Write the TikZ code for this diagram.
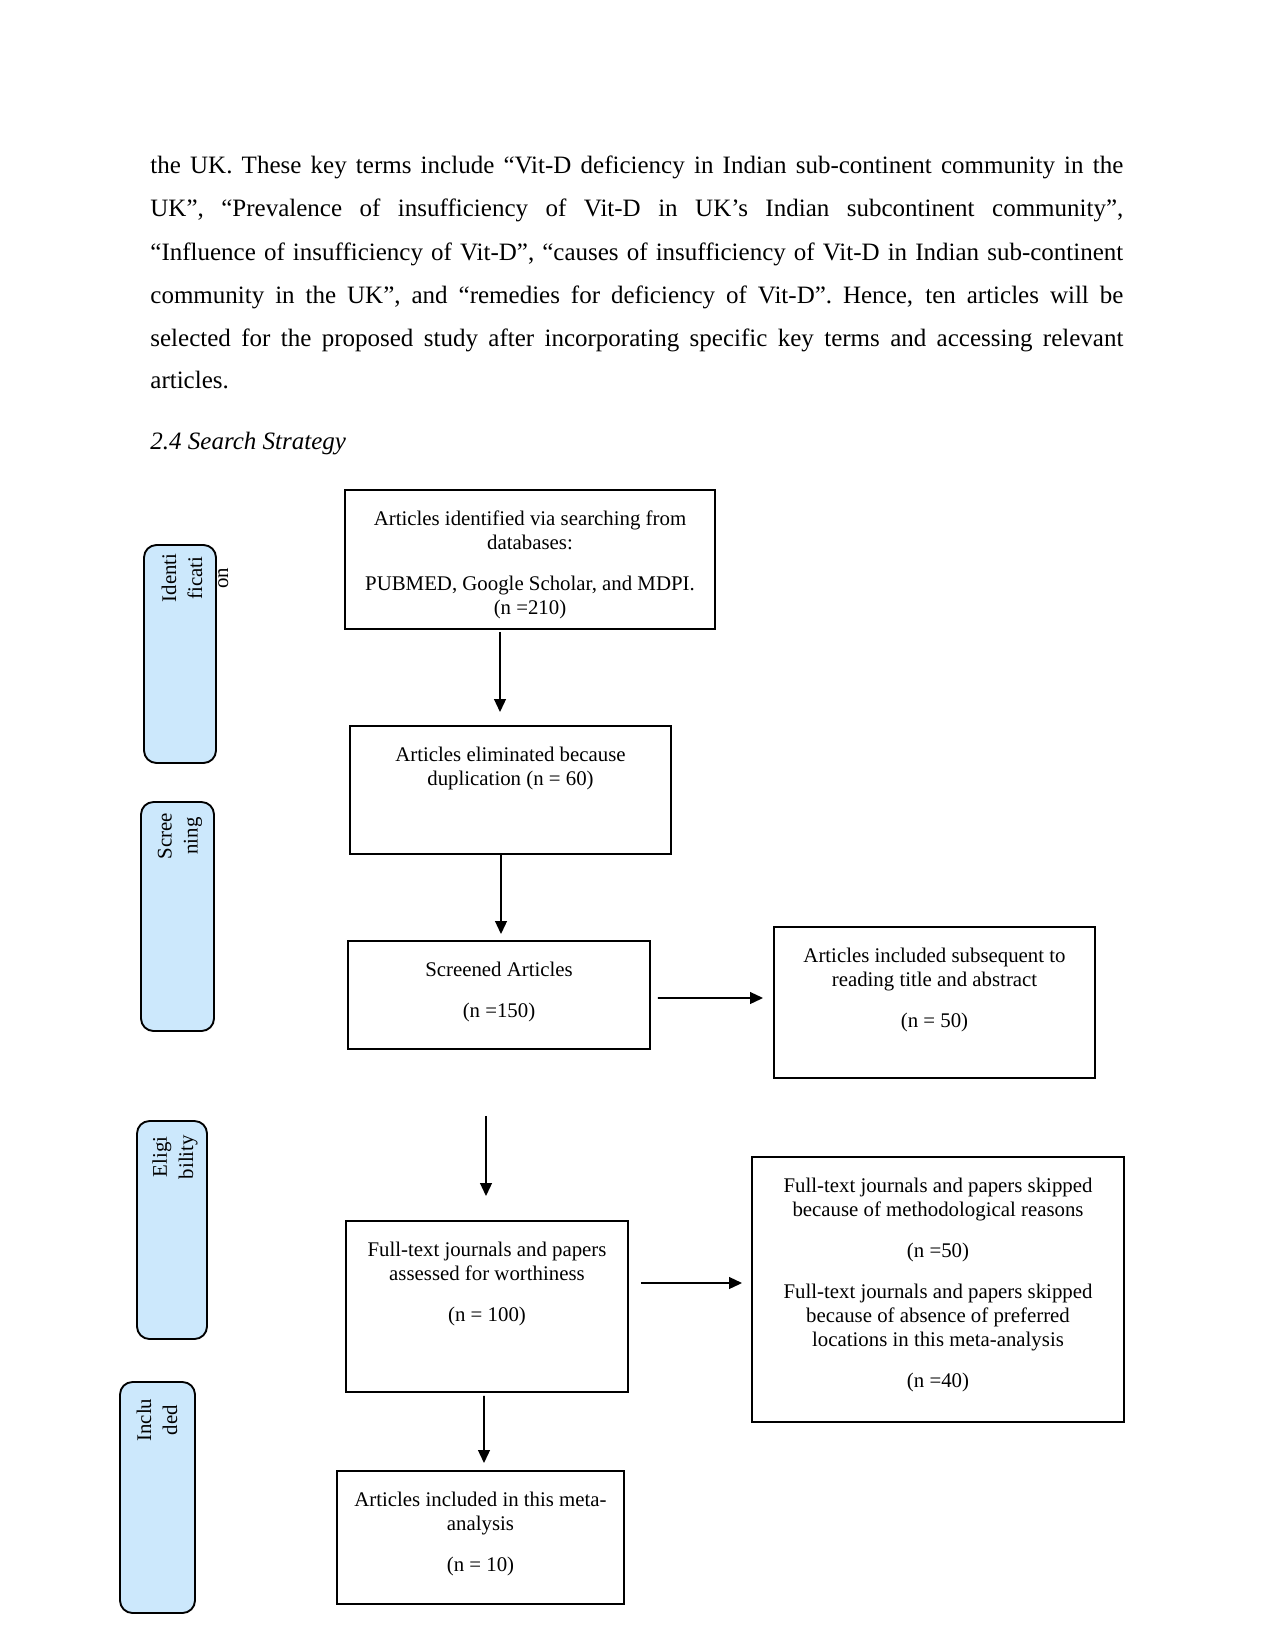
\documentclass[tikz,border=0pt]{standalone}
\usepackage{fontspec}
\setmainfont{Liberation Serif}
\usetikzlibrary{positioning,fit,calc,arrows.meta}

\definecolor{stagefill}{RGB}{204,232,252}
% one justified line of the body text
\newcommand{\jline}[1]{\hbox to 467pt{#1}}

\tikzset{
    flowbox/.style={draw, line width=0.9pt, inner sep=0pt},
    stagebox/.style={draw, line width=0.9pt, fill=stagefill, rounded corners=6pt, inner sep=0pt},
    boxtext/.style={align=center, inner sep=0pt, font=\fontsize{10}{11.6}\selectfont},
    stagetext/.style={rotate=90, align=center, inner sep=0pt, font=\fontsize{10}{12.5}\selectfont},
    bodyline/.style={anchor=base west, inner sep=0pt, font=\fontsize{12}{14}\selectfont},
    flowarrow/.style={line width=0.9pt, -{Triangle[width=5.6pt,length=6.2pt]}}
}

\begin{document}
\begin{tikzpicture}[x=0.48pt, y=-0.48pt]
    % The page, in pixels, y running down
    \useasboundingbox (0,0) rectangle (1275,1650);

    % The paragraph above the figure
    \node[bodyline] (line1) at (150,174) {\jline{the UK. These key terms include “Vit-D deficiency in Indian sub-continent community in the}};
    \node[bodyline] (line2) at (150,217) {\jline{UK”, “Prevalence of insufficiency of Vit-D in UK’s Indian subcontinent community”,}};
    \node[bodyline] (line3) at (150,260.5) {\jline{“Influence of insufficiency of Vit-D”, “causes of insufficiency of Vit-D in Indian sub-continent}};
    \node[bodyline] (line4) at (150,303.5) {\jline{community in the UK”, and “remedies for deficiency of Vit-D”. Hence, ten articles will be}};
    \node[bodyline] (line5) at (150,346.5) {\jline{selected for the proposed study after incorporating specific key terms and accessing relevant}};
    \node[bodyline] (line6) at (150,389) {articles.};
    % Section heading
    \node[bodyline, font=\fontsize{12}{14}\selectfont\itshape] (heading) at (150,449) {2.4 Search Strategy};

    % Stage bars on the left
    \node[stagebox, fit={(144,545) (216,763)}] (idstage) {};
    \node[stagetext] (idlabel) at (195,578) {Identi\\ficati\\on};
    \node[stagebox, fit={(141,802) (214,1031)}] (scrstage) {};
    \node[stagetext] (scrlabel) at (180,836) {Scree\\ning};
    \node[stagebox, fit={(137,1121) (207,1339)}] (eligstage) {};
    \node[stagetext] (eliglabel) at (175,1157) {Eligi\\bility};
    \node[stagebox, fit={(120,1382) (195,1613)}] (inclstage) {};
    \node[stagetext] (incllabel) at (157,1420) {Inclu\\ded};

    % The flow boxes
    \node[flowbox, fit={(345,490) (715,629)}] (ident) {};
    \node[boxtext, below=10.3pt of ident.north] (identtext) {Articles identified via searching from\\databases:\\[8pt]PUBMED, Google Scholar, and MDPI.\\(n =210)};

    \node[flowbox, fit={(350,726) (671,854)}] (dup) {};
    \node[boxtext, below=10.3pt of dup.north] (duptext) {Articles eliminated because\\duplication (n = 60)};

    \node[flowbox, fit={(348,941) (650,1049)}] (screened) {};
    \node[boxtext, below=10.3pt of screened.north] (screenedtext) {Screened Articles\\[8pt](n =150)};

    \node[flowbox, fit={(774,927) (1095,1078)}] (subseq) {};
    \node[boxtext, below=10.3pt of subseq.north] (subseqtext) {Articles included subsequent to\\reading title and abstract\\[8pt](n = 50)};

    \node[flowbox, fit={(346,1221) (628,1392)}] (assessed) {};
    \node[boxtext, below=10.3pt of assessed.north] (assessedtext) {Full-text journals and papers\\assessed for worthiness\\[8pt](n = 100)};

    \node[flowbox, fit={(752,1157) (1124,1422)}] (skipped) {};
    \node[boxtext, below=10.3pt of skipped.north] (skippedtext) {Full-text journals and papers skipped\\because of methodological reasons\\[8pt](n =50)\\[8pt]Full-text journals and papers skipped\\because of absence of preferred\\locations in this meta-analysis\\[8pt](n =40)};

    \node[flowbox, fit={(337,1471) (624,1604)}] (included) {};
    \node[boxtext, below=10.3pt of included.north] (includedtext) {Articles included in this meta-\\analysis\\[8pt](n = 10)};

    % Arrows between the boxes
    \draw[flowarrow] ($(ident.south)+(-30,2)$) -- ($(dup.north)+(-10.5,-13)$);
    \draw[flowarrow] ($(dup.south)+(-9.5,0)$) -- ($(screened.north)+(2,-6)$);
    \draw[flowarrow] ($(screened.east)+(7,3)$) -- ($(subseq.west)+(-10,-4.5)$);
    \draw[flowarrow] ($(screened.south)+(-13,66)$) -- ($(assessed.north)+(-1,-24)$);
    \draw[flowarrow] ($(assessed.east)+(12,-23.5)$) -- ($(skipped.west)+(-9,-6.5)$);
    \draw[flowarrow] ($(assessed.south)+(-3,3)$) -- ($(included.north)+(3.5,-7)$);
\end{tikzpicture}
\end{document}
